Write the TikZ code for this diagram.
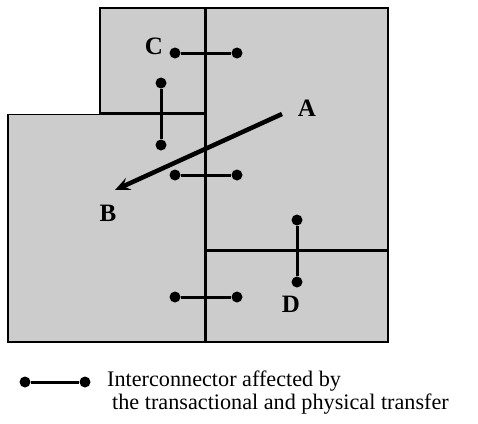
\documentclass[tikz,border=0pt]{standalone}
\usepackage{fontspec}
\setmainfont{Liberation Serif}
\usetikzlibrary{arrows.meta}

\begin{document}
\begin{tikzpicture}[x=1pt, y=-1pt,
		area/.style={draw=black, line width=1.1pt, fill=black!20},
		dot/.style={circle, fill=black, inner sep=0pt, minimum size=11pt},
		link/.style={line width=3pt},
		lbl/.style={font=\fontsize{25}{28}\selectfont\bfseries}]
		\useasboundingbox (0,0) rectangle (478,423);
		
		% 区域
		\draw[area] (100,8) rectangle (205,113);
		\draw[area] (206.5,8) rectangle (388,250);
		\draw[area] (8,114.5) rectangle (205,342);
		\draw[area] (206.5,251.5) rectangle (388,342);
		
		% 区域标签
		\node[lbl] (C) at (154,46) {C};
		\node[lbl] (A) at (307,108) {A};
		\node[lbl] (B) at (108,213) {B};
		\node[lbl] (D) at (291,304) {D};
		
		% 联络线端点
		\node[dot] (ca1) at (175,53) {};
		\node[dot] (ca2) at (237,53) {};
		\node[dot] (cb1) at (161,83) {};
		\node[dot] (cb2) at (161,145) {};
		\node[dot] (ba1) at (175,175) {};
		\node[dot] (ba2) at (237,175) {};
		\node[dot] (ad1) at (297,220) {};
		\node[dot] (ad2) at (297,282) {};
		\node[dot] (bd1) at (175,297) {};
		\node[dot] (bd2) at (237,297) {};
		
		% 联络线
		\draw[link] (ca1) -- (ca2);
		\draw[link] (cb1) -- (cb2);
		\draw[link] (ba1) -- (ba2);
		\draw[link] (ad1) -- (ad2);
		\draw[link] (bd1) -- (bd2);
		
		% 交易方向 A -> B
		\coordinate (from) at (282,114);
		\coordinate (to) at (115,190);
		\draw[line width=4.5pt, -{Stealth[length=15pt, width=13pt, inset=6pt]}] (from) -- (to);
		
		% 图例
		\node[dot] (lg1) at (25,382) {};
		\node[dot] (lg2) at (85,382) {};
		\draw[link] (lg1) -- (lg2);
		\node[anchor=base west, font=\fontsize{22.2}{24}\selectfont, inner sep=0pt] (leg1) at (107,386) {Interconnector affected by};
		\node[anchor=base west, font=\fontsize{22.2}{24}\selectfont, inner sep=0pt] (leg2) at (112,409) {the transactional and physical transfer};
	\end{tikzpicture}
\end{document}
